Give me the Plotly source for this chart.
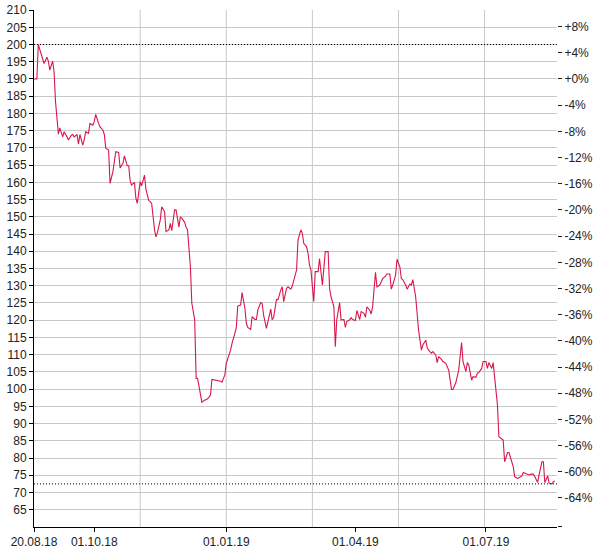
"""Price line with percent change axis."""
import pandas as pd
import plotly.graph_objects as go

start = pd.Timestamp("2018-08-20")
end = pd.Timestamp("2019-08-19 12:00")

# days since 20.08.18
days = [
    0, 2, 3, 5, 6, 7, 9, 10, 11, 13,
    14, 15, 17, 18, 20, 21, 23, 24, 26, 27,
    28, 30, 31, 32, 34, 35, 36, 38, 39, 41,
    42, 43, 45, 46, 48, 49, 50, 52, 53, 55,
    56, 57, 59, 60, 62, 63, 65, 66, 67, 68,
    70, 71, 72, 74, 75, 77, 78, 80, 81, 82,
    84, 85, 86, 88, 89, 91, 92, 94, 95, 96,
    98, 99, 101, 102, 103, 105, 106, 107, 109, 110,
    112, 113, 114, 116, 117, 119, 120, 121, 123, 124,
    130, 131, 133, 134, 137, 138, 140, 141, 142, 144,
    145, 147, 148, 149, 151, 152, 154, 155, 156, 158,
    159, 160, 162, 163, 165, 166, 167, 169, 170, 172,
    173, 174, 176, 177, 179, 180, 181, 183, 184, 186,
    187, 188, 190, 191, 192, 193, 195, 196, 198, 199,
    201, 202, 203, 205, 206, 207, 209, 210, 211, 213,
    214, 216, 217, 218, 220, 221, 222, 224, 225, 227,
    228, 230, 231, 232, 234, 235, 236, 238, 239, 241,
    242, 243, 245, 246, 248, 249, 250, 252, 253, 255,
    256, 257, 259, 260, 262, 263, 264, 266, 267, 268,
    270, 271, 273, 274, 275, 277, 278, 280, 281, 282,
    284, 285, 287, 288, 289, 291, 292, 294, 295, 296,
    298, 299, 301, 302, 303, 305, 306, 308, 309, 310,
    312, 313, 315, 316, 317, 319, 320, 322, 323, 324,
    326, 327, 328, 330, 331, 333, 334, 335, 337, 338,
    340, 341, 342, 344, 345, 347, 348, 349, 351, 352,
    354, 355, 356, 358, 359, 361, 362, 363,
]
values = [
    190.0, 190.0, 200.0, 196.9, 195.8, 194.5, 196.3, 195.2, 192.6, 195.2,
    192.1, 183.4, 174.0, 175.8, 173.2, 174.7, 173.2, 172.3, 173.7, 173.9,
    173.2, 173.9, 171.1, 173.9, 170.8, 172.3, 174.7, 174.2, 177.1, 176.6,
    177.6, 179.7, 177.1, 176.1, 175.2, 173.9, 169.9, 169.4, 159.7, 163.1,
    166.0, 168.9, 168.7, 164.2, 165.5, 167.7, 164.8, 164.8, 160.5, 159.2,
    160.0, 155.4, 153.9, 160.2, 159.0, 162.1, 158.0, 154.7, 154.4, 153.9,
    146.2, 144.2, 145.4, 149.1, 152.9, 151.5, 145.7, 146.2, 148.1, 146.0,
    152.0, 152.0, 147.0, 150.0, 149.6, 148.4, 147.0, 146.2, 135.5, 124.9,
    120.1, 103.1, 103.1, 98.8, 96.2, 96.8, 97.0, 97.2, 98.3, 102.8,
    102.3, 102.0, 104.1, 107.5, 111.3, 113.3, 116.2, 117.9, 124.1, 124.4,
    128.0, 123.4, 119.1, 117.9, 117.3, 121.0, 120.2, 120.2, 123.0, 125.1,
    124.9, 121.5, 117.6, 119.6, 123.2, 120.1, 120.8, 126.0, 125.9, 128.8,
    129.7, 125.4, 129.2, 129.7, 129.0, 129.9, 131.5, 134.6, 143.3, 146.2,
    145.2, 142.3, 141.3, 139.4, 136.0, 134.6, 125.4, 134.1, 134.1, 137.9,
    130.2, 135.0, 139.9, 139.9, 129.2, 126.8, 123.9, 112.3, 120.1, 125.1,
    120.1, 120.2, 117.9, 119.6, 120.1, 120.7, 120.2, 119.9, 122.8, 120.2,
    122.5, 122.0, 120.8, 123.9, 122.9, 121.8, 123.9, 133.9, 129.7, 130.2,
    131.5, 132.1, 132.8, 133.4, 133.4, 129.0, 130.2, 133.1, 137.7, 135.5,
    132.1, 131.8, 130.2, 129.0, 130.5, 130.2, 131.8, 126.8, 122.0, 117.2,
    111.3, 112.8, 114.2, 112.1, 111.3, 110.4, 110.9, 109.9, 107.7, 109.4,
    108.6, 108.0, 107.5, 106.5, 105.5, 99.9, 99.9, 101.9, 103.6, 105.5,
    113.5, 108.0, 105.1, 107.7, 107.0, 102.6, 103.6, 103.4, 104.6, 104.8,
    106.0, 108.0, 108.0, 106.0, 107.7, 106.0, 107.7, 100.7, 95.4, 86.2,
    85.4, 85.2, 78.9, 81.6, 81.6, 78.5, 77.5, 74.6, 74.1, 74.3,
    74.8, 75.8, 75.6, 75.3, 75.1, 75.4, 75.3, 74.6, 72.9, 75.1,
    78.9, 78.9, 72.9, 74.8, 72.7, 72.5, 73.1, 73.3,
]
assert len(days) == len(values)

x_tick_dates = ["2018-08-20", "2018-10-01", "2019-01-01", "2019-04-01", "2019-07-01"]
x_tick_labels = ["20.08.18", "01.10.18", "01.01.19", "01.04.19", "01.07.19"]
x_grid_dates = ["2018-11-02", "2019-01-01", "2019-03-02", "2019-05-01", "2019-06-30"]
y_ticks = list(range(65, 211, 5))
pct_ticks = list(range(8, -65, -4))

y_min, y_max = 60, 210
base = values[0]
dates = [start + pd.Timedelta(days=d) for d in days]
pct = [(v / base - 1) * 100 for v in values]
# tiny pad so the edge ticks (210 and the unlabeled bottom tick) are kept
pad = 0.02
y_range = [y_min - pad, y_max + pad]
pct_lo, pct_hi = ((y_range[0]) / base - 1) * 100, ((y_range[1]) / base - 1) * 100

font = dict(family="Liberation Sans, Arial, sans-serif", size=12, color="#222")
fig = go.Figure()
fig.add_trace(go.Scatter(x=dates, y=values, mode="lines",
                         line=dict(color="#d8174a", width=1.1), hoverinfo="x+y"))
fig.add_trace(go.Scatter(x=dates, y=pct, mode="lines", yaxis="y2",
                         line=dict(color="rgba(0,0,0,0)", width=0), hoverinfo="skip"))

shapes = []
for g in x_grid_dates:
    shapes.append(dict(type="line", xref="x", yref="paper", x0=g, x1=g, y0=0, y1=1,
                       line=dict(color="#c8c8c8", width=1), layer="below"))
for lvl in (max(values), min(values)):
    shapes.append(dict(type="line", xref="paper", yref="y", x0=0, x1=1, y0=lvl, y1=lvl,
                       line=dict(color="#000", width=1, dash="1px,2px")))

fig.update_layout(
    width=600, height=550, margin=dict(l=34, r=43, t=10, b=23),
    paper_bgcolor="white", plot_bgcolor="white", showlegend=False, font=font,
    shapes=shapes,
    xaxis=dict(type="date", range=[start, end], tickvals=x_tick_dates,
               ticktext=x_tick_labels, showgrid=False, showline=True,
               linecolor="#000", linewidth=1, ticks="outside", ticklen=4,
               tickcolor="#000", zeroline=False, automargin=False,
               ticklabeloverflow="allow"),
    yaxis=dict(range=y_range, tickvals=y_ticks, showgrid=True,
               gridcolor="#c8c8c8", gridwidth=1, showline=True, linecolor="#000",
               linewidth=1, ticks="outside", ticklen=4, tickcolor="#000",
               zeroline=False, automargin=False, ticklabeloverflow="allow"),
    yaxis2=dict(overlaying="y", side="right", range=[pct_lo, pct_hi],
                tickvals=pct_ticks + [(y_min / base - 1) * 100],
                ticktext=[f"{p:+d}%" for p in pct_ticks] + [""],
                showgrid=False, showline=False, ticks="outside", ticklen=4,
                tickcolor="#222", zeroline=False, automargin=False,
                ticklabeloverflow="allow"),
)

# drop the page's default body margin so the 600x550 figure fills the window
fig.write_html("out.html", config={"displayModeBar": False},
               post_script="document.body.style.margin='0';document.body.style.overflow='hidden';")
